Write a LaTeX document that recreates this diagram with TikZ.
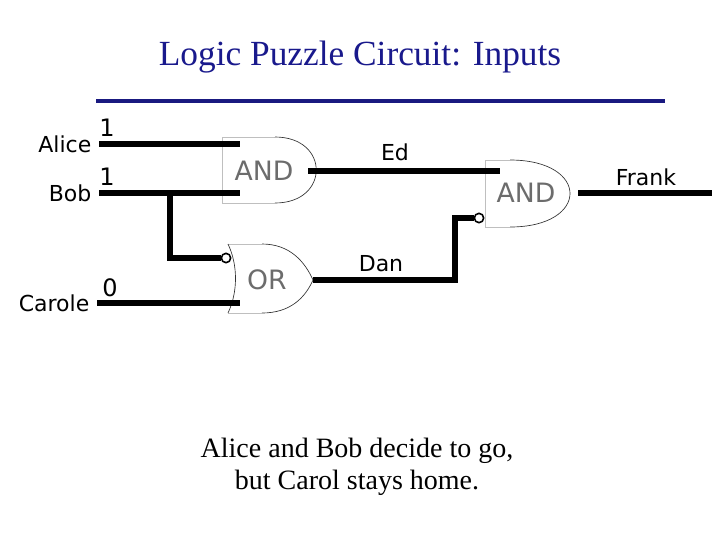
\documentclass[tikz,border=0pt]{standalone}
\usepackage{fontspec}
\setmainfont{Liberation Serif}
\newfontfamily\lbl{DejaVu Sans}
\begin{document}
\begin{tikzpicture}[x=0.75pt,y=-0.75pt,
  wire/.style={line width=4pt},
  gateline/.style={draw=gray!50,line width=0.6pt},
  gatecurve/.style={draw=black!80,line width=0.5pt},
  gtext/.style={font=\lbl\fontsize{20}{22}\selectfont,text=gray!85!black},
  plabel/.style={font=\lbl\fontsize{16.5}{18}\selectfont},
  val/.style={font=\lbl\fontsize{18}{20}\selectfont},
  bub/.style={circle,draw,line width=1.2pt,fill=white,inner sep=0pt,minimum size=7pt}]
\useasboundingbox (0,0) rectangle (720,540);
\node (title) at (360,57) {\fontsize{26.5}{30}\selectfont\color[rgb]{0.1,0.1,0.55}Logic Puzzle Circuit: Inputs};
\draw[line width=3pt,draw={rgb,1:red,0.1;green,0.1;blue,0.5}] (96,101) -- (665,101);
% gates
\draw[gateline] (275,137) -- (222,137) -- (222,203) -- (275,203);
\draw[gatecurve] (275,137) .. controls (330,137) and (330,203) .. (275,203);
\node[gtext] (g1) at (264,171) {AND};
\draw[gateline] (262,244) -- (228,244);
\draw[gateline] (228,313) -- (262,313);
\draw[gatecurve] (228,244) .. controls (238,265) and (238,292) .. (228,313);
\draw[gatecurve] (262,244) .. controls (290,244) and (305,262) .. (313,280) .. controls (305,298) and (290,313) .. (262,313);
\node[gtext] (g2) at (267,280) {OR};
\draw[gateline] (510,160) -- (485,160) -- (485,227) -- (510,227);
\draw[gatecurve] (510,160) .. controls (590,160) and (590,227) .. (510,227);
\node[gtext] (g3) at (526,193) {AND};
% inputs
\node[plabel,anchor=east] (alice) at (96,144) {Alice};
\node[plabel,anchor=east] (bob) at (96,193) {Bob};
\node[plabel,anchor=east] (carole) at (94,303) {Carole};
\node[val] (v1) at (107,128) {1};
\node[val] (v2) at (107,177) {1};
\node[val] (v3) at (110,288) {0};
\coordinate (a1) at (240,144);
\coordinate (b1) at (240,193);
\coordinate (c1) at (240,303);
\draw[wire] (alice.east) ++(3,0) -- (a1);
\draw[wire] (bob.east) ++(3,0) -- (b1);
\draw[wire] (carole.east) ++(3,0) -- (c1);
\node[bub] (nb1) at (226,258) {};
\draw[wire] (170,193) -- (170,258) -- (nb1.west);
\node[bub] (nb2) at (479,218) {};
\coordinate (orout) at (313,280);
\draw[wire] (orout) -- (455,280) -- (455,218) -- (nb2.west);
\coordinate (andout) at (308,171);
\draw[wire] (andout) -- (500,171);
\coordinate (out) at (578,193);
\draw[wire] (out) -- (712,193);
\node[plabel] (ed) at (395,152) {Ed};
\node[plabel] (dan) at (381,264) {Dan};
\node[plabel] (frank) at (646,177) {Frank};
\node[align=center,font=\fontsize{21}{24}\selectfont] (cap) at (357,467) {Alice and Bob decide to go,\\but Carol stays home.};
\end{tikzpicture}
\end{document}
